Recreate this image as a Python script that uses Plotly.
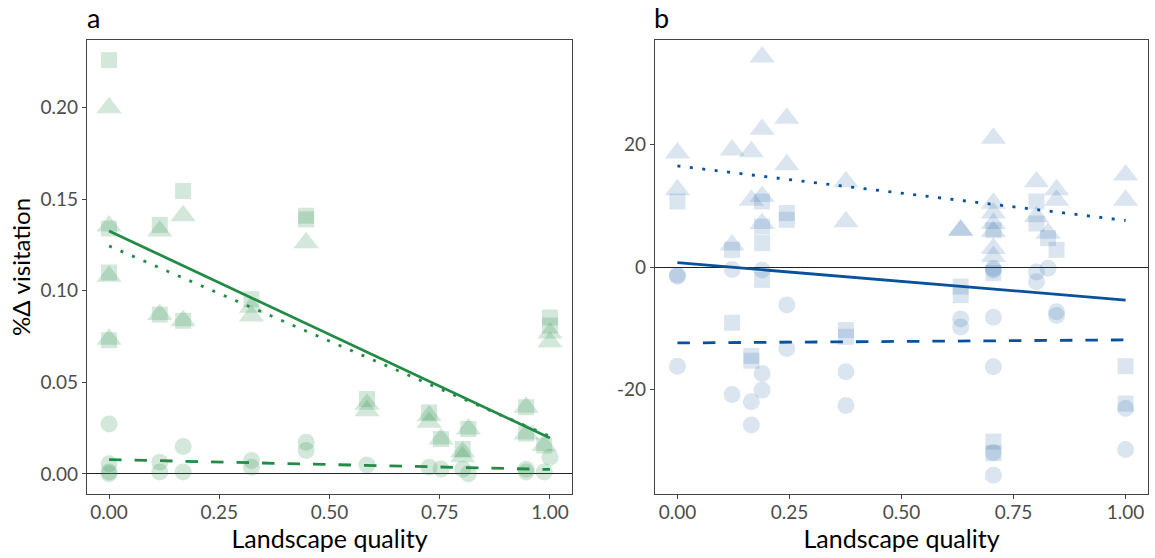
import plotly.graph_objects as go

# ---- Panel a: % change in visitation (proportion) vs landscape quality ----
a_circle_x = [0, 0, 0, 0, 0.115, 0.115, 0.168, 0.168, 0.323, 0.323, 0.447, 0.447,
              0.585, 0.726, 0.753, 0.802, 0.815, 0.946, 0.946, 0.987, 1.0]
a_circle_y = [0.0273, 0.0055, 0.001, 0.0, 0.0064, 0.001, 0.0149, 0.001, 0.0073, 0.0036,
              0.0173, 0.0127, 0.0049, 0.0036, 0.0027, 0.0025, 0.0, 0.001, 0.0025, 0.001, 0.0091]

a_triangle_x = [0, 0, 0, 0, 0.115, 0.115, 0.168, 0.168, 0.323, 0.323, 0.447,
                0.585, 0.585, 0.726, 0.726, 0.753, 0.802, 0.802, 0.815, 0.946, 0.946,
                0.987, 1.0, 1.0]
a_triangle_y = [0.200, 0.1354, 0.108, 0.0736, 0.1327, 0.087, 0.141, 0.0836, 0.091, 0.0863,
                0.1263, 0.038, 0.0345, 0.0318, 0.0282, 0.019, 0.012, 0.0093, 0.0245,
                0.0364, 0.0218, 0.0155, 0.077, 0.072]

a_square_x = [0, 0, 0, 0, 0.115, 0.115, 0.168, 0.168, 0.323, 0.447, 0.447,
              0.585, 0.726, 0.753, 0.802, 0.815, 0.946, 0.946, 0.987, 1.0, 1.0]
a_square_y = [0.226, 0.134, 0.110, 0.073, 0.136, 0.087, 0.1545, 0.0836, 0.0954, 0.141, 0.139,
              0.0409, 0.0336, 0.019, 0.0136, 0.0245, 0.0364, 0.022, 0.0155, 0.0854, 0.081]

# fitted trends (value at quality 0 and quality 1)
a_fit_x = [0, 1]
a_fit_square = [0.1327, 0.0196]
a_fit_triangle = [0.1245, 0.0205]
a_fit_circle = [0.0078, 0.0024]

# ---- Panel b ----
b_circle_x = [0, 0, 0, 0.122, 0.122, 0.165, 0.165, 0.189, 0.189, 0.189, 0.244, 0.244,
              0.376, 0.376, 0.632, 0.632, 0.705, 0.705, 0.705, 0.705, 0.705, 0.705,
              0.801, 0.801, 0.827, 0.846, 0.846, 1.0, 1.0]
b_circle_y = [-1.3, -1.5, -16.2, -0.4, -20.8, -22.0, -25.8, -0.5, -17.4, -20.1, -6.2, -13.3,
              -17.1, -22.6, -8.5, -9.8, -0.2, -0.5, -8.2, -16.3, -30.3, -34.0,
              -0.8, -2.4, -0.2, -7.3, -7.9, -23.1, -29.8]

b_triangle_x = [0, 0, 0.122, 0.122, 0.165, 0.165, 0.189, 0.189, 0.189, 0.189, 0.244, 0.244,
                0.376, 0.376, 0.632, 0.632, 0.705, 0.705, 0.705, 0.705, 0.705, 0.705, 0.705,
                0.801, 0.801, 0.827, 0.846, 0.846, 1.0, 1.0]
b_triangle_y = [18.6, 12.6, 19.1, 3.6, 18.8, 10.9, 34.3, 22.5, 11.5, 7.1, 24.3, 16.7,
                13.9, 7.4, 6.0, 6.0, 21.0, 10.4, 8.8, 7.1, 5.8, 3.0, 1.7,
                13.9, 8.2, 5.5, 12.6, 10.9, 15.0, 10.9]

b_square_x = [0, 0.122, 0.122, 0.165, 0.165, 0.189, 0.189, 0.189, 0.189, 0.244, 0.244,
              0.376, 0.376, 0.632, 0.632, 0.705, 0.705, 0.705, 0.705, 0.801, 0.801,
              0.827, 0.846, 1.0, 1.0]
b_square_y = [10.7, 2.8, -9.1, -14.5, -15.3, 10.7, 6.6, 3.9, -2.1, 8.8, 7.7,
              -10.3, -11.4, -3.2, -4.6, 6.0, -1.0, -28.5, -30.4, 10.7, 7.1,
              4.7, 2.8, -16.2, -22.3]

b_fit_x = [0, 1]
b_fit_square = [0.7, -5.4]
b_fit_triangle = [16.5, 7.6]
b_fit_circle = [-12.4, -11.9]

x_ticks = [0, 0.25, 0.5, 0.75, 1.0]
x_ticktext = ["0.00", "0.25", "0.50", "0.75", "1.00"]
a_yticks = [0, 0.05, 0.10, 0.15, 0.20]
a_yticktext = ["0.00", "0.05", "0.10", "0.15", "0.20"]
b_yticks = [-20, 0, 20]
b_yticktext = ["-20", "0", "20"]

GREEN = "#238b45"
BLUE = "#08519c"
FONT = "Lato"

fig = go.Figure()


def add_panel(xref, yref, color, alpha, pts, fits):
    for (xs, ys, sym, size) in pts:
        fig.add_trace(go.Scatter(
            x=xs, y=ys, mode="markers", xaxis=xref, yaxis=yref,
            marker=dict(symbol=sym, size=size, color=color, opacity=alpha,
                        line=dict(width=0)),
            showlegend=False, hoverinfo="skip"))
    for (xs, ys, dash) in fits:
        fig.add_trace(go.Scatter(
            x=xs, y=ys, mode="lines", xaxis=xref, yaxis=yref,
            line=dict(color=color, width=2.8, dash=dash),
            showlegend=False, hoverinfo="skip"))


add_panel("x", "y", GREEN, 0.2,
          [(a_circle_x, a_circle_y, "circle", 17),
           (a_triangle_x, a_triangle_y, "triangle-up", 22),
           (a_square_x, a_square_y, "square", 16)],
          [(a_fit_x, a_fit_square, "solid"),
           (a_fit_x, a_fit_triangle, "3px,9.5px"),
           (a_fit_x, a_fit_circle, "12.5px,13px")])

add_panel("x2", "y2", BLUE, 0.15,
          [(b_circle_x, b_circle_y, "circle", 17),
           (b_triangle_x, b_triangle_y, "triangle-up", 22),
           (b_square_x, b_square_y, "square", 16)],
          [(b_fit_x, b_fit_square, "solid"),
           (b_fit_x, b_fit_triangle, "3px,9.5px"),
           (b_fit_x, b_fit_circle, "12.5px,13px")])

W, H = 1155, 558
axis_common = dict(showgrid=False, showline=True, mirror=True, linecolor="#444",
                   linewidth=1.4, ticks="outside", ticklen=4, tickcolor="#444",
                   tickwidth=1.2, tickfont=dict(family=FONT, size=19, color="#4d4d4d"))

ydom = [1 - 494 / H, 1 - 40 / H]
fig.update_layout(
    width=W, height=H, margin=dict(l=0, r=0, t=0, b=0),
    paper_bgcolor="white", plot_bgcolor="white",
    font=dict(family=FONT),
    xaxis=dict(domain=[87 / W, 572 / W], range=[-0.05, 1.05], anchor="y",
               tickvals=x_ticks, ticktext=x_ticktext, zeroline=False,
               ticklabelstandoff=-3,
               title=dict(text="Landscape quality", standoff=3,
                          font=dict(family=FONT, size=25, color="black")),
               **axis_common),
    yaxis=dict(domain=ydom, range=[-0.011, 0.237], anchor="x",
               tickvals=a_yticks, ticktext=a_yticktext,
               zeroline=True, zerolinecolor="#222", zerolinewidth=1,
               title=dict(text="%Δ visitation", standoff=3,
                          font=dict(family=FONT, size=24, color="black")),
               **axis_common),
    xaxis2=dict(domain=[655 / W, 1148 / W], range=[-0.05, 1.05], anchor="y2",
                tickvals=x_ticks, ticktext=x_ticktext, zeroline=False,
                ticklabelstandoff=-3,
                title=dict(text="Landscape quality", standoff=3,
                           font=dict(family=FONT, size=25, color="black")),
                **axis_common),
    yaxis2=dict(domain=ydom, range=[-37.06, 37.06], anchor="x2",
                tickvals=b_yticks, ticktext=b_yticktext,
                zeroline=True, zerolinecolor="#222", zerolinewidth=1,
                **axis_common),
    annotations=[
        dict(text="a", x=85 / W, y=1 - 17 / H, xref="paper", yref="paper",
             xanchor="left", yanchor="middle", showarrow=False,
             font=dict(family=FONT, size=27, color="black")),
        dict(text="b", x=652 / W, y=1 - 17 / H, xref="paper", yref="paper",
             xanchor="left", yanchor="middle", showarrow=False,
             font=dict(family=FONT, size=27, color="black")),
    ],
)

fig.write_html("out.html")
